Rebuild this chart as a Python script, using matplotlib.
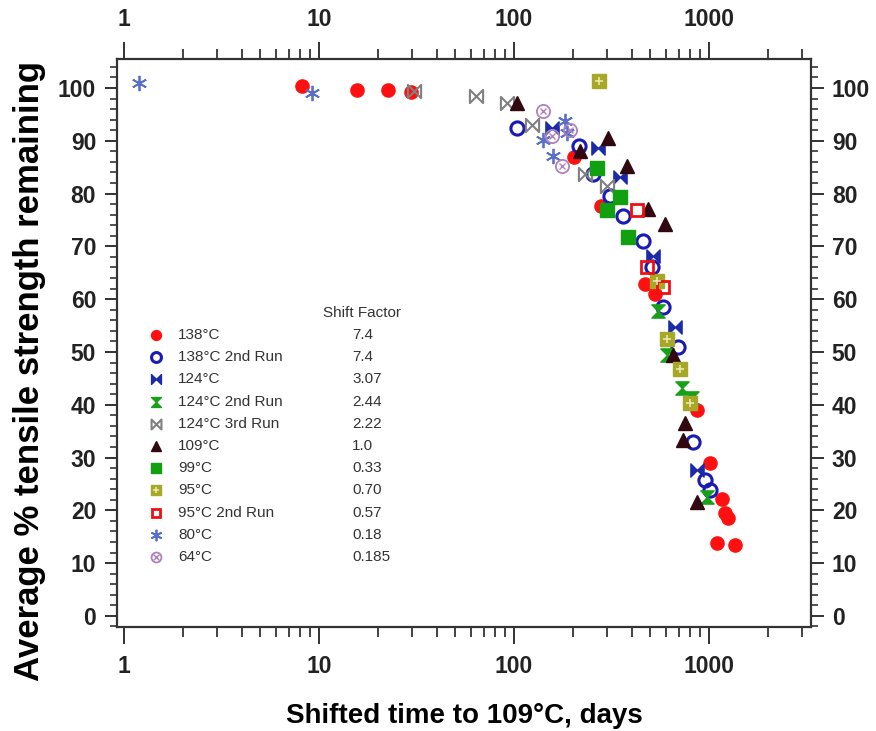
import matplotlib
matplotlib.use("Agg")
import matplotlib.pyplot as plt
from matplotlib.path import Path
from matplotlib.ticker import LogLocator, FixedLocator, MultipleLocator, FuncFormatter

plt.rcParams['font.family'] = ['Liberation Sans', 'DejaVu Sans']

# ---------------- data ----------------
labels = ["138°C", "138°C 2nd Run", "124°C", "124°C 2nd Run", "124°C 3rd Run",
          "109°C", "99°C", "95°C", "95°C 2nd Run", "80°C", "64°C"]
shift_factors = ["7.4", "7.4", "3.07", "2.44", "2.22", "1.0", "0.33", "0.70", "0.57", "0.18", "0.185"]

t138 = [8.2, 15.7, 22.6, 29.6, 203, 279, 470, 528, 868, 1012, 1167, 1203, 1250, 1100, 1350]
s138 = [100.4, 99.6, 99.6, 99.2, 86.9, 77.7, 62.9, 61.0, 39.0, 29.0, 22.1, 19.4, 18.5, 13.9, 13.5]

t138b = [103.5, 215, 254, 310, 362, 458, 508, 581, 693, 828, 955, 1011]
s138b = [92.4, 89.0, 83.8, 79.6, 75.8, 71.0, 66.0, 58.5, 51.0, 33.0, 25.7, 23.8]

t124 = [157, 270, 350, 516, 670, 868]
s124 = [92.4, 88.6, 83.2, 68.2, 54.7, 27.6]

t124b = [547, 609, 727, 818, 977]
s124b = [57.7, 49.5, 43.2, 41.3, 22.5]

t124c = [30.7, 63.8, 92, 124, 231, 300]
s124c = [99.4, 98.5, 97.1, 93.0, 83.8, 81.5]

t109 = [103.5, 218, 303, 380, 486, 595, 653, 753, 736, 868]
s109 = [97.1, 88.0, 90.5, 85.3, 77.1, 74.3, 49.5, 36.6, 33.3, 21.5]

t99 = [267, 350, 300, 384]
s99 = [84.8, 79.4, 76.8, 71.8]

t95 = [273, 541, 609, 710, 800]
s95 = [101.3, 63.4, 52.4, 46.7, 40.4]

t95b = [427, 481, 581]
s95b = [76.8, 66.1, 62.3]

t80 = [1.19, 9.2, 141, 158, 182, 186]
s80 = [101.0, 99.0, 90.1, 87.2, 93.7, 91.4]

t64 = [141, 157, 194, 176]
s64 = [95.6, 90.9, 92.0, 85.3]

x_ticks = [1, 10, 100, 1000]
y_ticks = list(range(0, 101, 10))

# ---------------- markers ----------------
bowtie = Path([(-1, 1), (0, 0), (1, 1), (1, -1), (0, 0), (-1, -1), (-1, 1)],
              [Path.MOVETO] + [Path.LINETO] * 5 + [Path.CLOSEPOLY])
hourglass = Path([(-1, 1), (1, 1), (0, 0), (1, -1), (-1, -1), (0, 0), (-1, 1)],
                 [Path.MOVETO] + [Path.LINETO] * 5 + [Path.CLOSEPOLY])

styles = [
    dict(marker='o', mfc='#ff1010', mec='#ff1010', mew=1, ms=9.5),
    dict(marker='o', mfc='none', mec='#1a1ab4', mew=2.2, ms=9.5),
    dict(marker=bowtie, mfc='#1a2aa8', mec='#1a2aa8', mew=1, ms=9.5),
    dict(marker=hourglass, mfc='#18a018', mec='#18a018', mew=1, ms=9.5),
    dict(marker=bowtie, mfc='none', mec='#808080', mew=1.5, ms=9.5),
    dict(marker='^', mfc='#300810', mec='#300810', mew=1, ms=9.5),
    dict(marker='s', mfc='#10a010', mec='#10a010', mew=1, ms=9.5),
    dict(marker='s', mfc='#a8a828', mec='#a8a828', mew=1, ms=9.5),
    dict(marker='s', mfc='none', mec='#ee1010', mew=2, ms=8.5),
    dict(marker=(6, 2, 0), mfc='#5870c8', mec='#5870c8', mew=1.3, ms=11),
    dict(marker='o', mfc='none', mec='#b080c0', mew=1.3, ms=9.5),
]
overlays = {7: dict(marker='+', mec='#e8e8b0', mew=1.2, ms=6),
            10: dict(marker='x', mec='#b080c0', mew=1.0, ms=5)}

series = [(t138, s138), (t138b, s138b), (t124, s124), (t124b, s124b), (t124c, s124c),
          (t109, s109), (t99, s99), (t95, s95), (t95b, s95b), (t80, s80), (t64, s64)]

# ---------------- figure ----------------
fig = plt.figure(figsize=(8.76, 7.31), dpi=100)
ax = fig.add_axes([0.1336, 0.1423, 0.7922, 0.7770])

for i, ((t, s), st) in enumerate(zip(series, styles)):
    ax.plot(t, s, linestyle='none', **st, zorder=3)
    if i in overlays:
        ax.plot(t, s, linestyle='none', **overlays[i], zorder=4)

ax.set_xscale('log')
ax.set_xlim(0.92, 3330)
ax.set_ylim(-2.1, 105.5)

ax.xaxis.set_major_locator(FixedLocator(x_ticks))
ax.xaxis.set_minor_locator(LogLocator(base=10, subs=range(2, 10), numticks=20))
ax.xaxis.set_major_formatter(FuncFormatter(lambda v, p: f"{int(round(v))}"))
ax.xaxis.set_minor_formatter(FuncFormatter(lambda v, p: ""))
ax.yaxis.set_major_locator(FixedLocator(y_ticks))
ax.yaxis.set_minor_locator(MultipleLocator(2))

ax.tick_params(axis='both', which='both', direction='out', colors='#222222',
               top=True, right=True, labeltop=True, labelright=True)
ax.tick_params(axis='x', which='major', length=12, width=1.3, labelsize=16.5, pad=8)
ax.tick_params(axis='x', which='minor', length=7, width=1.2)
ax.tick_params(axis='y', which='major', length=9, width=1.3, labelsize=16.5, pad=6)
ax.tick_params(axis='y', which='minor', length=5, width=1.1)
for t in ax.xaxis.get_major_ticks():
    t.label1.set_fontweight('bold'); t.label2.set_fontweight('bold')
for t in ax.yaxis.get_major_ticks():
    t.label1.set_fontweight('bold'); t.label2.set_fontweight('bold')

for sp in ax.spines.values():
    sp.set_linewidth(1.6)
    sp.set_color('#333333')

ax.set_xlabel("Shifted time to 109°C, days", fontsize=20, fontweight='bold', labelpad=18)
ax.set_ylabel("Average % tensile strength remaining", fontsize=25, fontweight='bold')
ax.yaxis.set_label_coords(-0.103, 0.45)

# ---------------- legend (manual, with shift factor column) ----------------
mx, lx, fx = 0.056, 0.088, 0.339
y0, dy = 0.514, 0.0391
ax.text(0.297, 0.553, "Shift Factor", transform=ax.transAxes, fontsize=11,
        color='#333333', va='center', ha='left')
for i, (lab, sf, st) in enumerate(zip(labels, shift_factors, styles)):
    yy = y0 - i * dy
    lst = dict(st)
    lst['ms'] = st['ms'] * 0.75
    ax.plot([mx], [yy], linestyle='none', transform=ax.transAxes, clip_on=False, **lst)
    if i in overlays:
        ost = dict(overlays[i]); ost['ms'] = ost['ms'] * 0.75
        ax.plot([mx], [yy], linestyle='none', transform=ax.transAxes, clip_on=False, **ost)
    ax.text(lx, yy, lab, transform=ax.transAxes, fontsize=11, color='#333333',
            va='center', ha='left')
    ax.text(fx, yy, sf, transform=ax.transAxes, fontsize=11, color='#333333',
            va='center', ha='left')

fig.savefig("out.png", dpi=100)
